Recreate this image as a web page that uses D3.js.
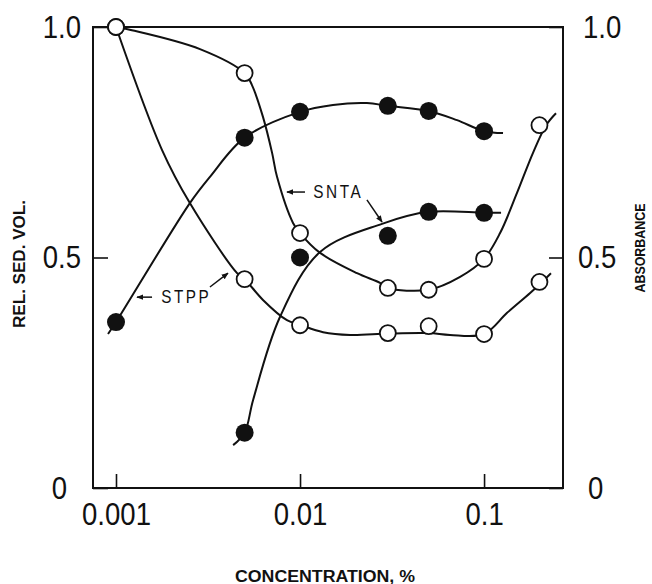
<!DOCTYPE html>
<html>
<head>
<meta charset="utf-8">
<script src="https://cdn.jsdelivr.net/npm/d3@7"></script>
<style>
  body { margin: 0; background: #fff; }
  svg { display: block; }
  text { font-family: 'Liberation Sans', Arial, sans-serif; fill: #111; }
</style>
</head>
<body>
<div id="chart"></div>
<script>
const xTicks = [0.001, 0.01, 0.1]
const xTickLabels = ['0.001', '0.01', '0.1']
const yTicks = [0, 0.5, 1.0]
const yTickLabels = ['0', '0.5', '1.0']

// rel. sed. vol. (filled dots)
const sedConcStpp = [0.001, 0.005, 0.01, 0.03, 0.05, 0.1]
const sedStpp = [0.36, 0.76, 0.816, 0.829, 0.818, 0.774]
const sedConcSnta = [0.005, 0.01, 0.03, 0.05, 0.1]
const sedSnta = [0.12, 0.5, 0.547, 0.599, 0.597]

// absorbance (open circles)
const absConc = [0.001, 0.005, 0.01, 0.03, 0.05, 0.1, 0.2]
const absStpp = [1.0, 0.453, 0.353, 0.336, 0.351, 0.334, 0.447]
const absSnta = [1.0, 0.9, 0.553, 0.434, 0.43, 0.497, 0.787]

// hand drawn curves, [conc, value]
const lineSedStpp = [[0.000905, 0.334], [0.001, 0.36], [0.00252, 0.618], [0.00324, 0.675], [0.005, 0.76],
  [0.01, 0.816], [0.0151, 0.831], [0.0231, 0.835], [0.03, 0.829], [0.05, 0.818], [0.0713, 0.798],
  [0.1, 0.774], [0.1268, 0.77]]
const lineSedSnta = [[0.00433, 0.093], [0.005, 0.12], [0.00556, 0.191], [0.00778, 0.371], [0.01285, 0.512],
  [0.0279, 0.573], [0.05, 0.599], [0.1, 0.597], [0.1237, 0.597]]
const lineAbsStpp = [[0.001, 1.0], [0.00178, 0.733], [0.00252, 0.618], [0.00455, 0.466], [0.005, 0.453],
  [0.00629, 0.408], [0.00849, 0.364], [0.01, 0.354], [0.01334, 0.338], [0.0187, 0.332], [0.03, 0.335],
  [0.05, 0.336], [0.0653, 0.332], [0.1, 0.334], [0.1334, 0.38], [0.178, 0.423], [0.2066, 0.447], [0.231, 0.466]]
const lineAbsSnta = [[0.001, 1.0], [0.00122, 0.993], [0.00286, 0.952], [0.005, 0.9], [0.00548, 0.874],
  [0.00629, 0.805], [0.00705, 0.727], [0.0075, 0.675], [0.00916, 0.575], [0.01, 0.553], [0.01285, 0.51],
  [0.0204, 0.466], [0.0272, 0.445], [0.03, 0.434], [0.05, 0.43], [0.0741, 0.458], [0.1, 0.497],
  [0.1222, 0.553], [0.151, 0.64], [0.1845, 0.727], [0.2173, 0.787], [0.246, 0.813]]

const width = 652
const height = 584
const margin = { top: 27, right: 89, bottom: 96, left: 93 }

const svg = d3.select('#chart').append('svg')
  .attr('width', width)
  .attr('height', height)

svg.append('defs').append('marker')
  .attr('id', 'arrow')
  .attr('viewBox', '0 0 10 10')
  .attr('refX', 9).attr('refY', 5)
  .attr('markerWidth', 7).attr('markerHeight', 7)
  .attr('markerUnits', 'userSpaceOnUse')
  .attr('orient', 'auto')
  .append('path').attr('d', 'M0,1 L10,5 L0,9 Z').attr('fill', '#111')

const x = d3.scaleLog()
  .domain([0.00075, 0.2685])
  .range([margin.left, width - margin.right])

const y = d3.scaleLinear()
  .domain([0, 1])
  .range([height - margin.bottom, margin.top])

const zip = (xs, ys) => xs.map((v, i) => [v, ys[i]])

// squeeze text horizontally, the original uses a condensed face
function condense(sel, k) {
  sel.each(function() {
    const w = this.getComputedTextLength()
    d3.select(this).attr('textLength', w * k).attr('lengthAdjust', 'spacingAndGlyphs')
  })
}

// frame
svg.append('rect')
  .attr('x', margin.left).attr('y', margin.top)
  .attr('width', width - margin.left - margin.right)
  .attr('height', height - margin.top - margin.bottom)
  .attr('fill', 'none').attr('stroke', '#111').attr('stroke-width', 2)

// axes
const gx = svg.append('g')
  .attr('transform', `translate(0,${height - margin.bottom})`)
  .call(d3.axisBottom(x).tickValues(xTicks).tickFormat((d, i) => xTickLabels[i])
    .tickSize(-14).tickSizeOuter(0).tickPadding(14))
const gl = svg.append('g')
  .attr('transform', `translate(${margin.left},0)`)
  .call(d3.axisLeft(y).tickValues(yTicks).tickFormat((d, i) => yTickLabels[i])
    .tickSize(-15).tickSizeOuter(0).tickPadding(12))
const gr = svg.append('g')
  .attr('transform', `translate(${width - margin.right},0)`)
  .call(d3.axisRight(y).tickValues(yTicks).tickFormat((d, i) => yTickLabels[i])
    .tickSize(-14).tickSizeOuter(0).tickPadding(15))

for (const g of [gx, gl, gr]) {
  g.select('.domain').remove()
  g.selectAll('line').attr('stroke', '#111').attr('stroke-width', 1.6)
  g.selectAll('text')
    .attr('font-family', "'Liberation Sans', Arial, sans-serif")
    .attr('font-size', 32)
    .attr('fill', '#111')
    .call(condense, 0.86)
}
gl.selectAll('.tick').filter(d => d === 0).select('text').attr('dx', -14)
gr.selectAll('.tick').filter(d => d === 0).select('text').attr('dx', 10)
gr.selectAll('.tick').filter(d => d === 1).select('text').attr('dx', 5)

// curves
const line = d3.line()
  .x(d => x(d[0]))
  .y(d => y(d[1]))
  .curve(d3.curveCatmullRom.alpha(0.5))

const plot = svg.append('g')
plot.selectAll('path.curve')
  .data([lineSedStpp, lineSedSnta, lineAbsStpp, lineAbsSnta])
  .join('path')
  .attr('class', 'curve')
  .attr('d', line)
  .attr('fill', 'none')
  .attr('stroke', '#111')
  .attr('stroke-width', 2)

// points
const filled = [...zip(sedConcStpp, sedStpp), ...zip(sedConcSnta, sedSnta)]
const open = [...zip(absConc, absStpp), ...zip(absConc, absSnta)]

plot.selectAll('circle.open')
  .data(open)
  .join('circle')
  .attr('class', 'open')
  .attr('cx', d => x(d[0]))
  .attr('cy', d => y(d[1]))
  .attr('r', 8)
  .attr('fill', '#fff')
  .attr('stroke', '#111')
  .attr('stroke-width', 1.8)

plot.selectAll('circle.filled')
  .data(filled)
  .join('circle')
  .attr('class', 'filled')
  .attr('cx', d => x(d[0]))
  .attr('cy', d => y(d[1]))
  .attr('r', 9)
  .attr('fill', '#111')

// annotations
const notes = [
  { text: 'SNTA', at: [0.0118, 0.629], arrows: [[[0.01064, 0.642], [0.00849, 0.642]], [[0.0231, 0.625], [0.0279, 0.577]]] },
  { text: 'STPP', at: [0.00176, 0.401], arrows: [[[0.00157, 0.414], [0.0013, 0.414]], [[0.00324, 0.436], [0.00406, 0.466]]] }
]
notes.forEach(n => {
  svg.append('text')
    .attr('x', x(n.at[0]))
    .attr('y', y(n.at[1]))
    .attr('font-size', 18)
    .attr('letter-spacing', 3)
    .attr('textLength', 50)
    .attr('lengthAdjust', 'spacingAndGlyphs')
    .text(n.text)
  n.arrows.forEach(a => {
    svg.append('line')
      .attr('x1', x(a[0][0])).attr('y1', y(a[0][1]))
      .attr('x2', x(a[1][0])).attr('y2', y(a[1][1]))
      .attr('stroke', '#111').attr('stroke-width', 1.5)
      .attr('marker-end', 'url(#arrow)')
  })
})

// axis titles
svg.append('text')
  .attr('transform', 'translate(25,264) rotate(-90)')
  .attr('text-anchor', 'middle')
  .attr('font-size', 16).attr('font-weight', 'bold')
  .attr('textLength', 128).attr('lengthAdjust', 'spacingAndGlyphs')
  .text('REL. SED. VOL.')

svg.append('text')
  .attr('transform', 'translate(645,248) rotate(-90)')
  .attr('text-anchor', 'middle')
  .attr('font-size', 15).attr('font-weight', 'bold')
  .attr('textLength', 89).attr('lengthAdjust', 'spacingAndGlyphs')
  .text('ABSORBANCE')

svg.append('text')
  .attr('x', 325).attr('y', 582)
  .attr('text-anchor', 'middle')
  .attr('font-size', 16).attr('font-weight', 'bold')
  .attr('textLength', 180).attr('lengthAdjust', 'spacingAndGlyphs')
  .text('CONCENTRATION, %')
</script>
</body>
</html>
